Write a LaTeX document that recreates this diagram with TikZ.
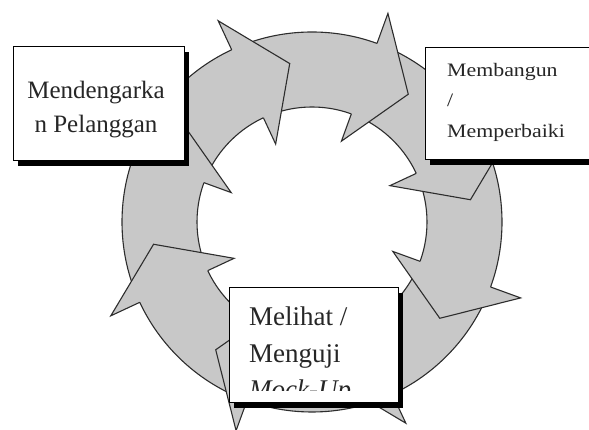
\documentclass[tikz,border=0pt]{standalone}
\usepackage{fontspec}
\setmainfont{Liberation Serif}
\newfontfamily\wideserif[FakeStretch=1.15]{Liberation Serif}
\usetikzlibrary{shadows}
\definecolor{ringgray}{RGB}{200,200,200}
\definecolor{edgegray}{RGB}{45,45,45}

\begin{document}
\begin{tikzpicture}[x=1pt, y=1pt,
    band/.style={fill=ringgray, draw=edgegray, line width=1.1pt, even odd rule},
    head/.style={fill=ringgray, draw=edgegray, line width=1.1pt},
    card/.style={rectangle, draw=black, fill=white, line width=1pt, inner sep=0pt,
      drop shadow={shadow xshift=5pt, shadow yshift=-5pt, fill=black, opacity=1}},
    cardtext/.style={inner sep=0pt, text=black!85}]
\useasboundingbox (0,0) rectangle (589,430);
\coordinate (ring) at (312,208);
\path[band] (ring) circle (190) (ring) circle (115);
\foreach \b [evaluate=\b as \t using \b-17] in {115,70,25,-20,-65,-110,-155,160}
  \path[head, shift={(ring)}] (\b:190) -- (\b:222) -- (\t:160) -- (\b:86) -- (\b:115);
\node[card, minimum width=171, minimum height=114] (listen) at (98.5,326) {};
\node[cardtext, align=center, font=\fontsize{25}{34}\selectfont] (listentxt) at (96,320.5) {Mendengarka\\n Pelanggan};
\node[card, minimum width=172, minimum height=112] (build) at (511,326) {};
\node[cardtext, anchor=north west, align=left, font=\wideserif\fontsize{19}{30.5}\selectfont] (buildtxt) at (447,367) {Membangun\\/\\Memperbaiki};
\node[card, minimum width=169, minimum height=115] (test) at (313.5,84.5) {};
\begin{scope}
\clip (229,39) rectangle (398,142);
\node[cardtext, anchor=north west, align=left, font=\fontsize{27}{36.5}\selectfont] (testtxt) at (249,123.4) {Melihat /\\Menguji\\\textit{Mock-Up}};
\end{scope}
\end{tikzpicture}
\end{document}
